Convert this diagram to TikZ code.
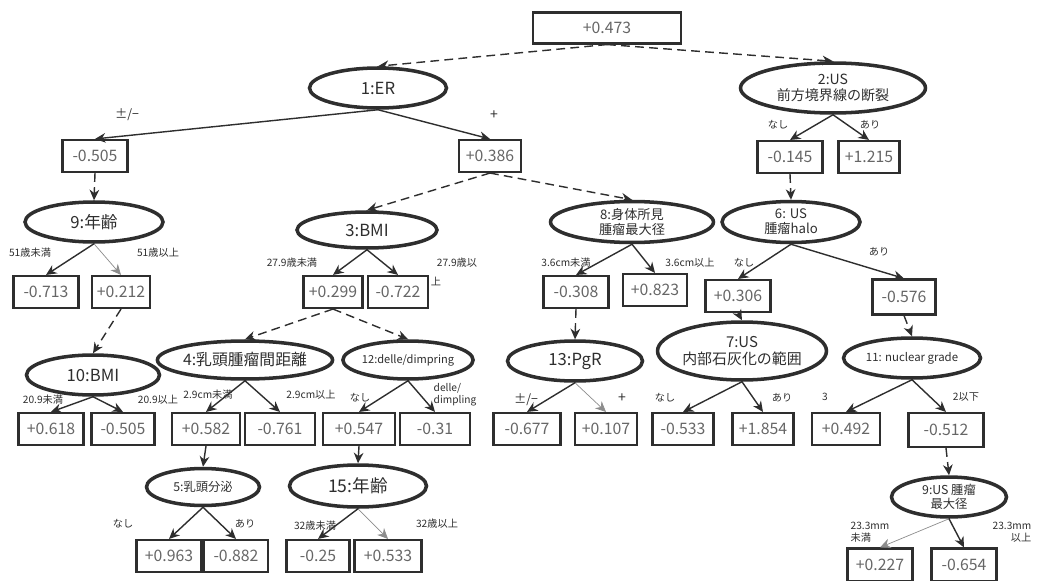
\documentclass[tikz,border=0pt]{standalone}
\usepackage{fontspec}
\setmainfont{Noto Sans CJK JP}
\usetikzlibrary{shapes.geometric, arrows, arrows.meta, positioning}
\definecolor{ink}{HTML}{2E2E2E}
\definecolor{valgray}{HTML}{666666}
\tikzstyle{split} = [
  ellipse,
  minimum width=2.74cm,
  minimum height=0.8cm,
  inner sep=0pt,
  align=center,
  draw=ink,
  line width=2pt,
  text=ink,
  font=\fontsize{9.5}{10.5}\selectfont
]
\tikzstyle{pred} = [
  rectangle,
  minimum width=1.3cm,
  minimum height=0.64cm,
  inner sep=0pt,
  text centered,
  draw=ink,
  line width=1.2pt,
  text=valgray,
  font=\fontsize{9}{10}\selectfont
]
\tikzstyle{cond} = [inner sep=0pt, text=ink, font=\fontsize{5.8}{6.8}\selectfont]
\tikzstyle{arrow} = [line width=0.8pt, ->, >={Stealth[length=6pt, width=5.5pt]}, draw=ink]
\tikzstyle{faint} = [line width=0.4pt, ->, >={Stealth[length=6pt, width=5.5pt]}, draw=ink!55]
\tikzstyle{link} = [arrow, dash pattern=on 5pt off 3pt]

\begin{document}
\begin{tikzpicture}[x=0.02cm, y=-0.02cm]
    \useasboundingbox (0,0) rectangle (1041,581);

    % level 0 and 1
    \node (root) [pred, minimum width=2.96cm, minimum height=0.62cm] at (607,28) {+0.473};
    \node (er) [split] at (378,88) {1:ER};
    \node (us2) [split, minimum width=3.7cm, minimum height=1cm, font=\fontsize{8}{9.5}\selectfont] at (833,88) {2:US\\前方境界線の断裂};
    \node (m505a) [pred] at (95,156) {-0.505};
    \node (p386) [pred, minimum width=1.24cm] at (490,156) {+0.386};
    \node (m145) [pred] at (790,157) {-0.145};
    \node (p1215) [pred, minimum width=1.22cm] at (869,157) {+1.215};

    % level 2
    \node (age9) [split, minimum width=2.76cm] at (94,222) {9:年齢};
    \node (bmi3) [split, minimum width=2.8cm, minimum height=0.72cm] at (367,230) {3:BMI};
    \node (phys8) [split, minimum width=3.26cm, minimum height=0.82cm, font=\fontsize{7.5}{8.5}\selectfont] at (632,222) {8:身体所見\\腫瘤最大径};
    \node (us6) [split, minimum width=2.76cm, minimum height=0.82cm, font=\fontsize{7.5}{8.5}\selectfont] at (791,222) {6: US\\腫瘤halo};
    \node (m713) [pred] at (46,292) {-0.713};
    \node (p212) [pred, minimum width=1.16cm] at (121,292) {+0.212};
    \node (p299) [pred, minimum width=1.18cm] at (333,292) {+0.299};
    \node (m722) [pred, minimum width=1.2cm] at (398,292) {-0.722};
    \node (m308) [pred] at (576,292) {-0.308};
    \node (p823) [pred, minimum width=1.28cm] at (655,290) {+0.823};
    \node (p306) [pred] at (738,296) {+0.306};
    \node (m576) [pred, minimum width=1.26cm, minimum height=0.7cm] at (904,297) {-0.576};

    % level 3
    \node (bmi10) [split, minimum width=2.66cm] at (93,375) {10:BMI};
    \node (dist4) [split, minimum width=2.72cm, minimum height=0.76cm, font=\fontsize{9}{10}\selectfont] at (245,360) {4:乳頭腫瘤間距離};
    \node (delle12) [split, minimum width=2.6cm, minimum height=0.76cm, font=\fontsize{6.3}{7}\selectfont] at (408,360) {12:delle/dimpring};
    \node (pgr13) [split, minimum width=2.7cm] at (575,361) {13:PgR};
    \node (us7) [split, minimum width=3.1cm, minimum height=1.16cm, font=\fontsize{8.5}{9.5}\selectfont] at (742,351) {7:US\\内部石灰化の範囲};
    \node (ng11) [split, minimum width=2.74cm, font=\fontsize{6.5}{7}\selectfont] at (912,358) {11: nuclear grade};
    \node (p618) [pred] at (51,429) {+0.618};
    \node (m505b) [pred, minimum width=1.26cm] at (123,429) {-0.505};
    \node (p582) [pred, minimum width=1.36cm] at (206,429) {+0.582};
    \node (m761) [pred, minimum width=1.4cm] at (280,429) {-0.761};
    \node (p547) [pred, minimum width=1.44cm] at (359,429) {+0.547};
    \node (m31) [pred, minimum width=1.4cm] at (435,429) {-0.31};
    \node (m677) [pred, minimum width=1.34cm] at (527,429) {-0.677};
    \node (p107) [pred, minimum width=1.24cm] at (606,429) {+0.107};
    \node (m533) [pred, minimum width=1.22cm] at (683,429) {-0.533};
    \node (p1854) [pred, minimum width=1.22cm] at (763,429) {+1.854};
    \node (p492) [pred, minimum width=1.36cm] at (846,429) {+0.492};
    \node (m512) [pred, minimum width=1.5cm, minimum height=0.68cm] at (946,430) {-0.512};

    % level 4
    \node (sec5) [split, minimum width=2.26cm, minimum height=0.74cm, font=\fontsize{7}{8}\selectfont] at (203,487) {5:乳頭分泌};
    \node (age15) [split, minimum width=2.74cm, minimum height=0.84cm, font=\fontsize{10}{11}\selectfont] at (358,486) {15:年齢};
    \node (us9) [split, minimum width=2.3cm, font=\fontsize{7}{8}\selectfont] at (949,497) {9:US 腫瘤\\最大径};
    \node (p963) [pred] at (169,556) {+0.963};
    \node (m882) [pred, minimum width=1.28cm] at (236,556) {-0.882};
    \node (m25) [pred, minimum width=1.26cm] at (318,556) {-0.25};
    \node (p533) [pred, minimum width=1.34cm] at (388,556) {+0.533};
    \node (p227) [pred, minimum height=0.66cm] at (880,565) {+0.227};
    \node (m654) [pred, minimum height=0.66cm] at (964,565) {-0.654};

    % conditions
    \node (c1a) [cond, font=\fontsize{7}{8}\selectfont] at (127,115) {±/−};
    \node (c1b) [cond, font=\fontsize{8}{9}\selectfont] at (494,115) {+};
    \node (c2a) [cond] at (778,125) {なし};
    \node (c2b) [cond] at (870,125) {あり};
    \node (c9a) [cond] at (30,253) {51歳未満};
    \node (c9b) [cond] at (158,253) {51歳以上};
    \node (c3a) [cond] at (292,263) {27.9歳未満};
    \node (c3b) [cond] at (457,263) {27.9歳以};
    \node (c3c) [cond] at (436,281) {上};
    \node (c8a) [cond] at (566,263) {3.6cm未満};
    \node (c8b) [cond] at (690,263) {3.6cm以上};
    \node (c6a) [cond] at (744,263) {なし};
    \node (c6b) [cond] at (879,252) {あり};
    \node (c10a) [cond] at (43,400) {20.9未満};
    \node (c10b) [cond] at (158,400) {20.9以上};
    \node (c4a) [cond] at (208,395) {2.9cm未満};
    \node (c4b) [cond] at (311,395) {2.9cm以上};
    \node (c12a) [cond] at (360,398) {なし};
    \node (c12b) [cond, align=left] at (455,395) {delle/\\dimpling};
    \node (c13a) [cond, font=\fontsize{7}{8}\selectfont] at (526,400) {±/−};
    \node (c13b) [cond, font=\fontsize{8}{9}\selectfont] at (622,398) {+};
    \node (c7a) [cond] at (665,398) {なし};
    \node (c7b) [cond] at (782,398) {あり};
    \node (c11a) [cond] at (825,397) {3};
    \node (c11b) [cond] at (966,397) {2以下};
    \node (c5a) [cond] at (123,524) {なし};
    \node (c5b) [cond] at (245,524) {あり};
    \node (c15a) [cond] at (315,526) {32歳未満};
    \node (c15b) [cond] at (437,524) {32歳以上};
    \node (c9ua) [cond, align=left] at (870,532) {23.3mm\\未満};
    \node (c9ub) [cond, align=right] at (1012,532) {23.3mm\\以上};

    % prediction -> splitter
    \draw [link] (root.south) -- (er.north);
    \draw [link] (root.south) -- (us2.north);
    \draw [link] (m505a.south) -- (age9.north);
    \draw [link] (p386.south) -- (bmi3.north);
    \draw [link] (p386.south) -- (phys8.north);
    \draw [link] (m145.south) -- (us6.north);
    \draw [link] (p212.south) -- (bmi10.north);
    \draw [link] (p299.south) -- (dist4.north);
    \draw [link] (p299.south) -- (delle12.north);
    \draw [link] (m308.south) -- (pgr13.north);
    \draw [link] (p306.south) -- (us7.north);
    \draw [link] (m576.south) -- (ng11.north);
    \draw [arrow] (p582.south) -- (sec5.north);
    \draw [arrow] (p547.south) -- (age15.north);
    \draw [link] (m512.south) -- (us9.north);

    % splitter -> prediction
    \draw [arrow] (er.south) -- (m505a.north);
    \draw [arrow] (er.south) -- (p386.north);
    \draw [arrow] (us2.south) -- (m145.north);
    \draw [arrow] (us2.south) -- (p1215.north);
    \draw [arrow] (age9.south) -- (m713.north);
    \draw [faint] (age9.south) -- (p212.north);
    \draw [arrow] (bmi3.south) -- (p299.north);
    \draw [arrow] (bmi3.south) -- (m722.north);
    \draw [arrow] (phys8.south) -- (m308.north);
    \draw [arrow] (phys8.south) -- (p823.north);
    \draw [arrow] (us6.south) -- (p306.north);
    \draw [arrow] (us6.south) -- (m576.north);
    \draw [arrow] (bmi10.south) -- (p618.north);
    \draw [arrow] (bmi10.south) -- (m505b.north);
    \draw [arrow] (dist4.south) -- (p582.north);
    \draw [arrow] (dist4.south) -- (m761.north);
    \draw [arrow] (delle12.south) -- (p547.north);
    \draw [arrow] (delle12.south) -- (m31.north);
    \draw [arrow] (pgr13.south) -- (m677.north);
    \draw [faint] (pgr13.south) -- (p107.north);
    \draw [arrow] (us7.south) -- (m533.north);
    \draw [arrow] (us7.south) -- (p1854.north);
    \draw [arrow] (ng11.south) -- (p492.north);
    \draw [arrow] (ng11.south) -- (m512.north);
    \draw [arrow] (sec5.south) -- (p963.north);
    \draw [arrow] (sec5.south) -- (m882.north);
    \draw [arrow] (age15.south) -- (m25.north);
    \draw [faint] (age15.south) -- (p533.north);
    \draw [faint] (us9.south) -- (p227.north);
    \draw [arrow] (us9.south) -- (m654.north);
\end{tikzpicture}
\end{document}
